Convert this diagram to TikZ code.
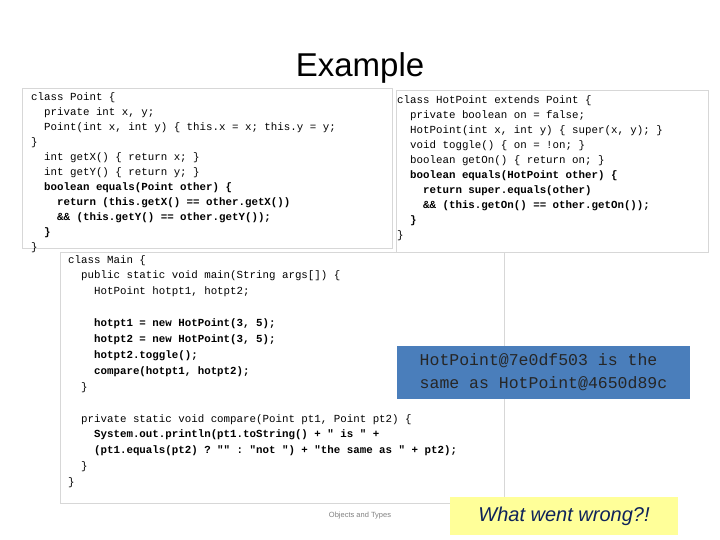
\documentclass[tikz,border=0pt]{standalone}
\usepackage{fontspec}
\setmainfont{Liberation Sans}
\setmonofont{Liberation Mono}
\usetikzlibrary{positioning}
\newcommand\I{\hspace*{1.2em}}
\definecolor{boxline}{RGB}{215,215,215}
\definecolor{outblue}{RGB}{74,126,187}
\definecolor{wrongyellow}{RGB}{255,255,153}
\definecolor{wrongtext}{RGB}{15,35,90}
\begin{document}
\begin{tikzpicture}[x=1pt, y=-1pt]
    \tikzstyle{codebox}=[draw=boxline, fill=white, line width=0.8pt]
    \tikzstyle{code}=[anchor=north west, align=left, inner sep=0pt,
      font=\ttfamily\fontsize{10.8}{15}\selectfont]
    \useasboundingbox (0,0) rectangle (720,540);
    \node (title) at (360,68) {\fontsize{33}{36}\selectfont Example};
    % class Point
    \draw [codebox] (22,88) rectangle (392,248);
    \node [code] (point) at (31,92) {class Point \{\\
      \I private int x, y;\\
      \I Point(int x, int y) \{ this.x = x; this.y = y;\\
      \}\\
      \I int getX() \{ return x; \}\\
      \I int getY() \{ return y; \}\\
      \I\bfseries boolean equals(Point other) \{\\
      \I\I\bfseries return (this.getX() == other.getX())\\
      \I\I\bfseries \&\& (this.getY() == other.getY());\\
      \I\bfseries \}\\
      \}};
    % class HotPoint
    \draw [codebox] (396,90) rectangle (708,252);
    \node [code] (hotpoint) at (397,95) {class HotPoint extends Point \{\\
      \I private boolean on = false;\\
      \I HotPoint(int x, int y) \{ super(x, y); \}\\
      \I void toggle() \{ on = !on; \}\\
      \I boolean getOn() \{ return on; \}\\
      \I\bfseries boolean equals(HotPoint other) \{\\
      \I\I\bfseries return super.equals(other)\\
      \I\I\bfseries \&\& (this.getOn() == other.getOn());\\
      \I\bfseries \}\\
      \}};
    % class Main
    \draw [codebox] (60,252) rectangle (504,503);
    \node [code, font=\ttfamily\fontsize{10.8}{15.9}\selectfont] (main) at (68,255) {class Main \{\\
      \I public static void main(String args[]) \{\\
      \I\I HotPoint hotpt1, hotpt2;\\
      \mbox{}\\
      \I\I\bfseries hotpt1 = new HotPoint(3, 5);\\
      \I\I\bfseries hotpt2 = new HotPoint(3, 5);\\
      \I\I\bfseries hotpt2.toggle();\\
      \I\I\bfseries compare(hotpt1, hotpt2);\\
      \I \}\\
      \mbox{}\\
      \I private static void compare(Point pt1, Point pt2) \{\\
      \I\I\bfseries System.out.println(pt1.toString() + " is " +\\
      \I\I\bfseries (pt1.equals(pt2) ? "" : "not ") + "the same as " + pt2);\\
      \I \}\\
      \}};
    % output
    \node [fill=outblue, minimum width=293pt, minimum height=53pt, align=left,
      font=\ttfamily\fontsize{16.5}{23}\selectfont, text=black!85] (output) at (543.5,372)
      {HotPoint@7e0df503 is the\\same as HotPoint@4650d89c};
    \node [text=gray, font=\fontsize{7.5}{9}\selectfont] (footer) at (360,516) {Objects and Types};
    \node [fill=wrongyellow, minimum width=228pt, minimum height=38pt,
      font=\itshape\fontsize{20}{24}\selectfont, text=wrongtext] (wrong) at (564,516) {What went wrong?!};
\end{tikzpicture}
\end{document}
